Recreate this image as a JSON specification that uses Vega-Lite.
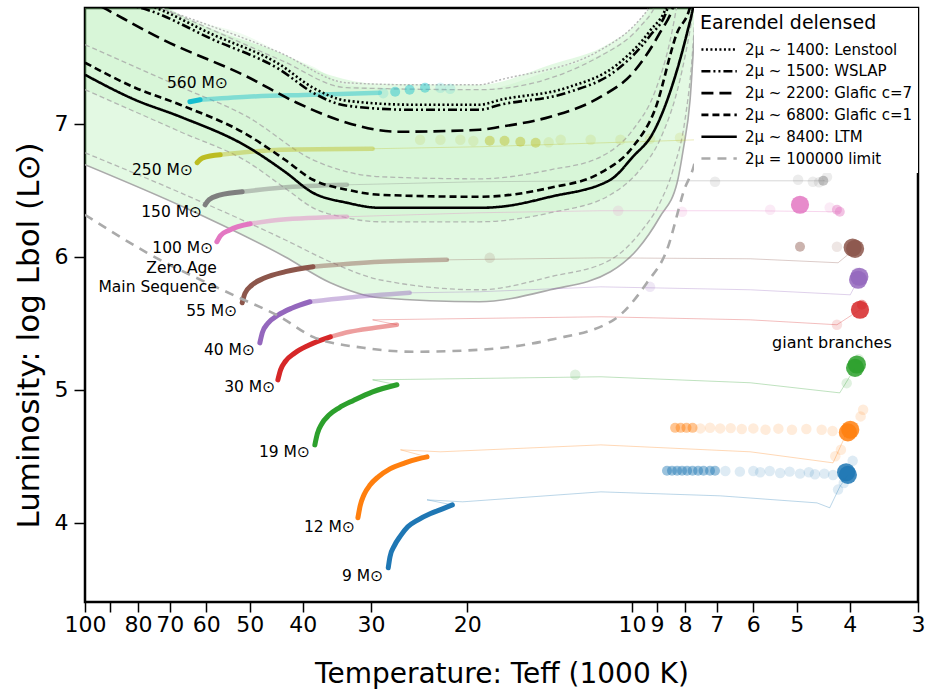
{
 "$schema": "https://vega.github.io/schema/vega-lite/v6.json",
 "width": 833, "height": 594,
 "autosize": "none",
 "padding": {"left": 85, "top": 8, "right": 9, "bottom": 98},
 "background": "white",
 "config": {
  "font": "DejaVu Sans",
  "view": {"stroke": "black", "strokeWidth": 2.5},
  "axis": {"domain": false, "grid": false, "tickColor": "black", "tickWidth": 1.5, "labelColor": "black", "titleColor": "black", "titleFontWeight": "normal", "labelFontSize": 22, "labelFont": "DejaVu Sans", "titleFont": "DejaVu Sans"},
  "legend": {"orient": "top-right", "offset": 0, "padding": 6, "fillColor": "white", "titleFontSize": 19, "titleFontWeight": "normal", "titleColor": "black", "labelFontSize": 15, "labelColor": "black", "symbolType": "M-1,0H4", "symbolSize": 200, "symbolStrokeWidth": 2.6, "symbolFillColor": "transparent", "labelOffset": 28, "rowPadding": 4.8, "titlePadding": 8, "labelLimit": 300}
 },
 "datasets": {
  "band": [
   {"b":"outer","T":100,"L":6.692,"L2":8.3},
   {"b":"outer","T":65.6,"L":6.368,"L2":7.80},
   {"b":"outer","T":43.1,"L":6.000,"L2":7.517},
   {"b":"outer","T":35.6,"L":5.805,"L2":7.365},
   {"b":"outer","T":28.9,"L":5.692,"L2":7.30},
   {"b":"outer","T":19.0,"L":5.662,"L2":7.293},
   {"b":"outer","T":14.1,"L":5.752,"L2":7.443},
   {"b":"outer","T":10.95,"L":5.887,"L2":7.608},
   {"b":"outer","T":9.79,"L":6.053,"L2":7.76},
   {"b":"outer","T":8.89,"L":6.301,"L2":8.0},
   {"b":"outer","T":8.27,"L":6.556,"L2":8.3},
   {"b":"outer","T":8.06,"L":6.805,"L2":8.3},
   {"b":"outer","T":7.83,"L":7.180,"L2":8.3},
   {"b":"outer","T":7.70,"L":7.632,"L2":8.3},
   {"b":"outer","T":7.60,"L":7.932,"L2":8.3},
   {"b":"outer","T":7.5,"L":8.3,"L2":8.3},
   {"b":"inner","T":100,"L":7.256,"L2":8.3},
   {"b":"inner","T":67.0,"L":6.940,"L2":7.82},
   {"b":"inner","T":50.5,"L":6.714,"L2":7.66},
   {"b":"inner","T":42.7,"L":6.504,"L2":7.51},
   {"b":"inner","T":38.3,"L":6.368,"L2":7.43},
   {"b":"inner","T":33.2,"L":6.293,"L2":7.29},
   {"b":"inner","T":28.9,"L":6.263,"L2":7.27},
   {"b":"inner","T":19.0,"L":6.263,"L2":7.256},
   {"b":"inner","T":14.1,"L":6.331,"L2":7.40},
   {"b":"inner","T":10.95,"L":6.466,"L2":7.56},
   {"b":"inner","T":9.67,"L":6.654,"L2":7.729},
   {"b":"inner","T":8.89,"L":6.880,"L2":7.97},
   {"b":"inner","T":8.17,"L":7.331,"L2":8.3},
   {"b":"inner","T":7.83,"L":7.707,"L2":8.3},
   {"b":"inner","T":7.67,"L":7.932,"L2":8.3},
   {"b":"inner","T":7.6,"L":8.3,"L2":8.3}
  ],
  "gray": [
   {"g":"top","T":79.3,"L":7.925},{"g":"top","T":73.9,"L":7.88},{"g":"top","T":44.0,"L":7.534},{"g":"top","T":33.2,"L":7.308},{"g":"top","T":25.1,"L":7.293},{"g":"top","T":19.0,"L":7.293},{"g":"top","T":17.4,"L":7.331},{"g":"top","T":11.4,"L":7.556},{"g":"top","T":9.96,"L":7.729},{"g":"top","T":9.27,"L":7.88},{"g":"top","T":8.89,"L":8.0},
   {"g":"g1","T":79.3,"L":7.932},{"g":"g1","T":71.4,"L":7.857},{"g":"g1","T":44.0,"L":7.481},{"g":"g1","T":33.2,"L":7.271},{"g":"g1","T":19.0,"L":7.256},{"g":"g1","T":11.4,"L":7.511},{"g":"g1","T":9.67,"L":7.729},{"g":"g1","T":9.08,"L":7.88},{"g":"g1","T":8.89,"L":7.97},
   {"g":"g4","T":100,"L":7.594},{"g":"g4","T":67.0,"L":7.278},{"g":"g4","T":50.5,"L":7.053},{"g":"g4","T":38.3,"L":6.729},{"g":"g4","T":28.9,"L":6.602},{"g":"g4","T":19.0,"L":6.586},{"g":"g4","T":14.1,"L":6.654},{"g":"g4","T":11.4,"L":6.752},{"g":"g4","T":9.96,"L":6.955},{"g":"g4","T":9.08,"L":7.241},{"g":"g4","T":8.51,"L":7.632},{"g":"g4","T":8.24,"L":7.932},
   {"g":"g2","T":100,"L":7.256},{"g":"g2","T":67.0,"L":6.940},{"g":"g2","T":50.5,"L":6.714},{"g":"g2","T":42.7,"L":6.504},{"g":"g2","T":38.3,"L":6.368},{"g":"g2","T":33.2,"L":6.293},{"g":"g2","T":28.9,"L":6.263},{"g":"g2","T":19.0,"L":6.263},{"g":"g2","T":14.1,"L":6.331},{"g":"g2","T":10.95,"L":6.466},{"g":"g2","T":9.67,"L":6.654},{"g":"g2","T":8.89,"L":6.880},{"g":"g2","T":8.17,"L":7.331},{"g":"g2","T":7.83,"L":7.707},{"g":"g2","T":7.67,"L":7.932},
   {"g":"g3","T":100,"L":6.782},{"g":"g3","T":65.6,"L":6.466},{"g":"g3","T":43.1,"L":6.128},{"g":"g3","T":35.6,"L":5.962},{"g":"g3","T":28.9,"L":5.827},{"g":"g3","T":19.0,"L":5.752},{"g":"g3","T":14.1,"L":5.850},{"g":"g3","T":10.95,"L":5.977},{"g":"g3","T":9.67,"L":6.180},{"g":"g3","T":8.89,"L":6.406},{"g":"g3","T":8.41,"L":6.654},{"g":"g3","T":8.00,"L":7.030},{"g":"g3","T":7.77,"L":7.481},{"g":"g3","T":7.64,"L":7.932},
   {"g":"lower","T":100,"L":6.692},{"g":"lower","T":65.6,"L":6.368},{"g":"lower","T":43.1,"L":6.000},{"g":"lower","T":35.6,"L":5.805},{"g":"lower","T":28.9,"L":5.692},{"g":"lower","T":19.0,"L":5.662},{"g":"lower","T":14.1,"L":5.752},{"g":"lower","T":10.95,"L":5.887},{"g":"lower","T":9.79,"L":6.053},{"g":"lower","T":8.89,"L":6.301},{"g":"lower","T":8.27,"L":6.556},{"g":"lower","T":8.06,"L":6.805},{"g":"lower","T":7.83,"L":7.180},{"g":"lower","T":7.70,"L":7.632},{"g":"lower","T":7.60,"L":7.932}
  ],
  "lens": [
   {"model":"2μ ~ 1400: Lenstool","T":86.3,"L":7.95},{"model":"2μ ~ 1400: Lenstool","T":77.0,"L":7.895},{"model":"2μ ~ 1400: Lenstool","T":58.3,"L":7.669},{"model":"2μ ~ 1400: Lenstool","T":44.0,"L":7.444},{"model":"2μ ~ 1400: Lenstool","T":38.3,"L":7.271},{"model":"2μ ~ 1400: Lenstool","T":33.2,"L":7.173},{"model":"2μ ~ 1400: Lenstool","T":25.1,"L":7.143},{"model":"2μ ~ 1400: Lenstool","T":19.0,"L":7.143},{"model":"2μ ~ 1400: Lenstool","T":17.4,"L":7.180},{"model":"2μ ~ 1400: Lenstool","T":13.15,"L":7.271},{"model":"2μ ~ 1400: Lenstool","T":10.65,"L":7.444},{"model":"2μ ~ 1400: Lenstool","T":9.27,"L":7.699},{"model":"2μ ~ 1400: Lenstool","T":8.63,"L":7.895},{"model":"2μ ~ 1400: Lenstool","T":8.45,"L":8.05},
   {"model":"2μ ~ 1500: WSLAP","T":86.3,"L":7.91},{"model":"2μ ~ 1500: WSLAP","T":77.0,"L":7.857},{"model":"2μ ~ 1500: WSLAP","T":58.3,"L":7.632},{"model":"2μ ~ 1500: WSLAP","T":44.0,"L":7.406},{"model":"2μ ~ 1500: WSLAP","T":38.3,"L":7.233},{"model":"2μ ~ 1500: WSLAP","T":33.2,"L":7.135},{"model":"2μ ~ 1500: WSLAP","T":25.1,"L":7.105},{"model":"2μ ~ 1500: WSLAP","T":19.0,"L":7.105},{"model":"2μ ~ 1500: WSLAP","T":17.4,"L":7.143},{"model":"2μ ~ 1500: WSLAP","T":13.15,"L":7.233},{"model":"2μ ~ 1500: WSLAP","T":10.65,"L":7.406},{"model":"2μ ~ 1500: WSLAP","T":9.27,"L":7.662},{"model":"2μ ~ 1500: WSLAP","T":8.63,"L":7.857},{"model":"2μ ~ 1500: WSLAP","T":8.45,"L":8.0},
   {"model":"2μ ~ 2200: Glafic c=7","T":100,"L":7.947},{"model":"2μ ~ 2200: Glafic c=7","T":91.1,"L":7.857},{"model":"2μ ~ 2200: Glafic c=7","T":72.0,"L":7.632},{"model":"2μ ~ 2200: Glafic c=7","T":50.5,"L":7.353},{"model":"2μ ~ 2200: Glafic c=7","T":41.0,"L":7.158},{"model":"2μ ~ 2200: Glafic c=7","T":33.2,"L":7.008},{"model":"2μ ~ 2200: Glafic c=7","T":26.9,"L":6.940},{"model":"2μ ~ 2200: Glafic c=7","T":19.0,"L":6.955},{"model":"2μ ~ 2200: Glafic c=7","T":17.4,"L":6.977},{"model":"2μ ~ 2200: Glafic c=7","T":14.1,"L":7.053},{"model":"2μ ~ 2200: Glafic c=7","T":11.4,"L":7.203},{"model":"2μ ~ 2200: Glafic c=7","T":9.96,"L":7.383},{"model":"2μ ~ 2200: Glafic c=7","T":8.89,"L":7.684},{"model":"2μ ~ 2200: Glafic c=7","T":8.41,"L":7.880},{"model":"2μ ~ 2200: Glafic c=7","T":8.17,"L":8.083},
   {"model":"2μ ~ 6800: Glafic c=1","T":100,"L":7.459},{"model":"2μ ~ 6800: Glafic c=1","T":81.0,"L":7.271},{"model":"2μ ~ 6800: Glafic c=1","T":67.0,"L":7.143},{"model":"2μ ~ 6800: Glafic c=1","T":50.5,"L":6.917},{"model":"2μ ~ 6800: Glafic c=1","T":43.1,"L":6.729},{"model":"2μ ~ 6800: Glafic c=1","T":38.3,"L":6.579},{"model":"2μ ~ 6800: Glafic c=1","T":33.2,"L":6.504},{"model":"2μ ~ 6800: Glafic c=1","T":28.9,"L":6.466},{"model":"2μ ~ 6800: Glafic c=1","T":19.0,"L":6.451},{"model":"2μ ~ 6800: Glafic c=1","T":14.1,"L":6.519},{"model":"2μ ~ 6800: Glafic c=1","T":11.4,"L":6.632},{"model":"2μ ~ 6800: Glafic c=1","T":9.96,"L":6.827},{"model":"2μ ~ 6800: Glafic c=1","T":9.08,"L":7.105},{"model":"2μ ~ 6800: Glafic c=1","T":8.27,"L":7.684},{"model":"2μ ~ 6800: Glafic c=1","T":7.83,"L":7.880},{"model":"2μ ~ 6800: Glafic c=1","T":7.70,"L":8.083},
   {"model":"2μ ~ 8400: LTM","T":100,"L":7.368},{"model":"2μ ~ 8400: LTM","T":81.0,"L":7.180},{"model":"2μ ~ 8400: LTM","T":67.0,"L":7.053},{"model":"2μ ~ 8400: LTM","T":50.5,"L":6.827},{"model":"2μ ~ 8400: LTM","T":43.1,"L":6.639},{"model":"2μ ~ 8400: LTM","T":38.3,"L":6.481},{"model":"2μ ~ 8400: LTM","T":33.2,"L":6.406},{"model":"2μ ~ 8400: LTM","T":28.9,"L":6.368},{"model":"2μ ~ 8400: LTM","T":19.0,"L":6.368},{"model":"2μ ~ 8400: LTM","T":17.4,"L":6.376},{"model":"2μ ~ 8400: LTM","T":14.1,"L":6.451},{"model":"2μ ~ 8400: LTM","T":10.95,"L":6.579},{"model":"2μ ~ 8400: LTM","T":9.96,"L":6.752},{"model":"2μ ~ 8400: LTM","T":9.15,"L":6.932},{"model":"2μ ~ 8400: LTM","T":8.41,"L":7.308},{"model":"2μ ~ 8400: LTM","T":7.93,"L":7.684},{"model":"2μ ~ 8400: LTM","T":7.73,"L":7.880},{"model":"2μ ~ 8400: LTM","T":7.60,"L":8.083},
   {"model":"2μ = 100000 limit","T":100,"L":6.316},{"model":"2μ = 100000 limit","T":77.0,"L":6.030},{"model":"2μ = 100000 limit","T":52.7,"L":5.699},{"model":"2μ = 100000 limit","T":44.0,"L":5.549},{"model":"2μ = 100000 limit","T":38.3,"L":5.398},{"model":"2μ = 100000 limit","T":31.0,"L":5.316},{"model":"2μ = 100000 limit","T":25.1,"L":5.286},{"model":"2μ = 100000 limit","T":19.0,"L":5.301},{"model":"2μ = 100000 limit","T":14.1,"L":5.376},{"model":"2μ = 100000 limit","T":10.8,"L":5.526},{"model":"2μ = 100000 limit","T":9.39,"L":5.805},{"model":"2μ = 100000 limit","T":8.63,"L":6.053},{"model":"2μ = 100000 limit","T":8.06,"L":6.481},{"model":"2μ = 100000 limit","T":7.60,"L":6.805},{"model":"2μ = 100000 limit","T":7.54,"L":7.256}
  ],
  "tracks": [
   {"m":"9","s":"ms","i":0,"T":27.9,"L":3.662},{"m":"9","s":"ms","i":1,"T":27.7,"L":3.744},{"m":"9","s":"ms","i":2,"T":27.2,"L":3.827},{"m":"9","s":"ms","i":3,"T":26.5,"L":3.902},{"m":"9","s":"ms","i":4,"T":25.7,"L":3.970},{"m":"9","s":"ms","i":5,"T":24.6,"L":4.023},{"m":"9","s":"ms","i":6,"T":23.4,"L":4.068},{"m":"9","s":"ms","i":7,"T":22.2,"L":4.105},{"m":"9","s":"ms","i":8,"T":21.3,"L":4.135},
   {"m":"9","s":"post","i":0,"T":21.3,"L":4.135},{"m":"9","s":"post","i":1,"T":23.7,"L":4.173},{"m":"9","s":"post","i":2,"T":20.4,"L":4.158},{"m":"9","s":"post","i":3,"T":11.4,"L":4.233},{"m":"9","s":"post","i":4,"T":6.90,"L":4.203},{"m":"9","s":"post","i":5,"T":4.59,"L":4.150},{"m":"9","s":"post","i":6,"T":4.35,"L":4.113},{"m":"9","s":"post","i":7,"T":4.17,"L":4.271},{"m":"9","s":"post","i":8,"T":4.03,"L":4.361},
   {"m":"12","s":"ms","i":0,"T":31.7,"L":4.038},{"m":"12","s":"ms","i":1,"T":31.4,"L":4.128},{"m":"12","s":"ms","i":2,"T":30.9,"L":4.211},{"m":"12","s":"ms","i":3,"T":30.1,"L":4.286},{"m":"12","s":"ms","i":4,"T":29.1,"L":4.346},{"m":"12","s":"ms","i":5,"T":27.7,"L":4.406},{"m":"12","s":"ms","i":6,"T":26.0,"L":4.451},{"m":"12","s":"ms","i":7,"T":24.6,"L":4.481},{"m":"12","s":"ms","i":8,"T":23.7,"L":4.496},
   {"m":"12","s":"post","i":0,"T":23.7,"L":4.496},{"m":"12","s":"post","i":1,"T":26.5,"L":4.549},{"m":"12","s":"post","i":2,"T":22.4,"L":4.534},{"m":"12","s":"post","i":3,"T":11.4,"L":4.586},{"m":"12","s":"post","i":4,"T":6.08,"L":4.534},{"m":"12","s":"post","i":5,"T":4.29,"L":4.451},{"m":"12","s":"post","i":6,"T":4.05,"L":4.677},{"m":"12","s":"post","i":7,"T":3.99,"L":4.699},
   {"m":"19","s":"ms","i":0,"T":38.0,"L":4.586},{"m":"19","s":"ms","i":1,"T":37.6,"L":4.670},{"m":"19","s":"ms","i":2,"T":36.9,"L":4.745},{"m":"19","s":"ms","i":3,"T":35.8,"L":4.810},{"m":"19","s":"ms","i":4,"T":34.3,"L":4.865},{"m":"19","s":"ms","i":5,"T":32.3,"L":4.920},{"m":"19","s":"ms","i":6,"T":29.8,"L":4.985},{"m":"19","s":"ms","i":7,"T":26.9,"L":5.038},
   {"m":"19","s":"post","i":0,"T":26.9,"L":5.038},{"m":"19","s":"post","i":1,"T":29.8,"L":5.075},{"m":"19","s":"post","i":2,"T":24.0,"L":5.08},{"m":"19","s":"post","i":3,"T":11.4,"L":5.098},{"m":"19","s":"post","i":4,"T":6.08,"L":5.053},{"m":"19","s":"post","i":5,"T":4.17,"L":4.977},{"m":"19","s":"post","i":6,"T":3.91,"L":5.165},
   {"m":"30","s":"ms","i":0,"T":44.4,"L":5.075},{"m":"30","s":"ms","i":1,"T":43.9,"L":5.150},{"m":"30","s":"ms","i":2,"T":43.0,"L":5.215},{"m":"30","s":"ms","i":3,"T":41.4,"L":5.275},{"m":"30","s":"ms","i":4,"T":39.0,"L":5.335},{"m":"30","s":"ms","i":5,"T":35.6,"L":5.398},
   {"m":"30","s":"fade","i":0,"T":35.6,"L":5.398},{"m":"30","s":"fade","i":1,"T":32.8,"L":5.436},{"m":"30","s":"fade","i":2,"T":29.5,"L":5.466},{"m":"30","s":"fade","i":3,"T":26.9,"L":5.489},
   {"m":"30","s":"post","i":0,"T":26.9,"L":5.489},{"m":"30","s":"post","i":1,"T":29.8,"L":5.526},{"m":"30","s":"post","i":2,"T":11.4,"L":5.549},{"m":"30","s":"post","i":3,"T":6.08,"L":5.526},{"m":"30","s":"post","i":4,"T":4.22,"L":5.489},{"m":"30","s":"post","i":5,"T":3.83,"L":5.602},
   {"m":"40","s":"ms","i":0,"T":47.9,"L":5.353},{"m":"40","s":"ms","i":1,"T":47.4,"L":5.430},{"m":"40","s":"ms","i":2,"T":46.3,"L":5.500},{"m":"40","s":"ms","i":3,"T":44.4,"L":5.560},{"m":"40","s":"ms","i":4,"T":41.8,"L":5.615},{"m":"40","s":"ms","i":5,"T":38.8,"L":5.662},
   {"m":"40","s":"fade","i":0,"T":38.8,"L":5.662},{"m":"40","s":"fade","i":1,"T":33.2,"L":5.692},{"m":"40","s":"fade","i":2,"T":25.5,"L":5.729},
   {"m":"40","s":"post","i":0,"T":25.5,"L":5.729},{"m":"40","s":"post","i":1,"T":19.0,"L":5.737},{"m":"40","s":"post","i":2,"T":11.4,"L":5.774},{"m":"40","s":"post","i":3,"T":6.08,"L":5.752},{"m":"40","s":"post","i":4,"T":3.99,"L":5.714},{"m":"40","s":"post","i":5,"T":3.86,"L":5.827},
   {"m":"55","s":"ms","i":0,"T":51.6,"L":5.654},{"m":"55","s":"ms","i":1,"T":51.0,"L":5.725},{"m":"55","s":"ms","i":2,"T":49.6,"L":5.785},{"m":"55","s":"ms","i":3,"T":47.0,"L":5.840},{"m":"55","s":"ms","i":4,"T":43.0,"L":5.888},{"m":"55","s":"ms","i":5,"T":38.3,"L":5.925},
   {"m":"55","s":"fade","i":0,"T":38.3,"L":5.925},{"m":"55","s":"fade","i":1,"T":28.9,"L":5.962},{"m":"55","s":"fade","i":2,"T":21.8,"L":5.977},
   {"m":"55","s":"post","i":0,"T":21.8,"L":5.977},{"m":"55","s":"post","i":1,"T":11.4,"L":5.992},{"m":"55","s":"post","i":2,"T":6.08,"L":5.985},{"m":"55","s":"post","i":3,"T":4.20,"L":5.955},{"m":"55","s":"post","i":4,"T":3.91,"L":6.060},
   {"m":"100","s":"ms","i":0,"T":57.4,"L":6.113},{"m":"100","s":"ms","i":1,"T":56.5,"L":6.160},{"m":"100","s":"ms","i":2,"T":54.5,"L":6.200},{"m":"100","s":"ms","i":3,"T":49.9,"L":6.248},
   {"m":"100","s":"fade","i":0,"T":49.9,"L":6.248},{"m":"100","s":"fade","i":1,"T":44.0,"L":6.278},{"m":"100","s":"fade","i":2,"T":33.2,"L":6.301},
   {"m":"100","s":"post","i":0,"T":33.2,"L":6.301},{"m":"100","s":"post","i":1,"T":19.0,"L":6.331},{"m":"100","s":"post","i":2,"T":11.4,"L":6.346},{"m":"100","s":"post","i":3,"T":6.08,"L":6.346},{"m":"100","s":"post","i":4,"T":4.17,"L":6.338},
   {"m":"150","s":"ms","i":0,"T":60.3,"L":6.391},{"m":"150","s":"ms","i":1,"T":59.3,"L":6.430},{"m":"150","s":"ms","i":2,"T":56.8,"L":6.463},{"m":"150","s":"ms","i":3,"T":51.6,"L":6.489},
   {"m":"150","s":"fade","i":0,"T":51.6,"L":6.489},{"m":"150","s":"fade","i":1,"T":44.0,"L":6.519},{"m":"150","s":"fade","i":2,"T":33.2,"L":6.541},
   {"m":"150","s":"post","i":0,"T":33.2,"L":6.541},{"m":"150","s":"post","i":1,"T":19.0,"L":6.564},{"m":"150","s":"post","i":2,"T":11.4,"L":6.571},{"m":"150","s":"post","i":3,"T":4.44,"L":6.571},
   {"m":"250","s":"ms","i":0,"T":62.4,"L":6.707},{"m":"250","s":"ms","i":1,"T":60.9,"L":6.744},{"m":"250","s":"ms","i":2,"T":56.6,"L":6.767},
   {"m":"250","s":"fade","i":0,"T":56.6,"L":6.767},{"m":"250","s":"fade","i":1,"T":49.9,"L":6.789},{"m":"250","s":"fade","i":2,"T":44.0,"L":6.805},{"m":"250","s":"fade","i":3,"T":29.8,"L":6.812},
   {"m":"250","s":"post","i":0,"T":29.8,"L":6.812},{"m":"250","s":"post","i":1,"T":19.0,"L":6.827},{"m":"250","s":"post","i":2,"T":7.51,"L":6.880},
   {"m":"560","s":"ms","i":0,"T":64.3,"L":7.165},{"m":"560","s":"ms","i":1,"T":61.6,"L":7.180},
   {"m":"560","s":"fade","i":0,"T":61.6,"L":7.180},{"m":"560","s":"fade","i":1,"T":50.5,"L":7.203},{"m":"560","s":"fade","i":2,"T":38.3,"L":7.218},{"m":"560","s":"fade","i":3,"T":28.9,"L":7.233}
  ],
  "dots": [
   {"m":"9","k":"mid","T":8.63,"L":4.391},{"m":"9","k":"mid","T":8.45,"L":4.391},{"m":"9","k":"mid","T":8.27,"L":4.391},{"m":"9","k":"mid","T":8.10,"L":4.391},{"m":"9","k":"mid","T":7.93,"L":4.391},{"m":"9","k":"mid","T":7.75,"L":4.391},{"m":"9","k":"mid","T":7.57,"L":4.391},{"m":"9","k":"mid","T":7.40,"L":4.391},{"m":"9","k":"mid","T":7.20,"L":4.391},{"m":"9","k":"mid","T":7.05,"L":4.391},
   {"m":"9","k":"faint","T":6.75,"L":4.39},{"m":"9","k":"faint","T":6.35,"L":4.385},{"m":"9","k":"faint","T":6.0,"L":4.39},{"m":"9","k":"faint","T":5.83,"L":4.38},{"m":"9","k":"faint","T":5.6,"L":4.39},{"m":"9","k":"faint","T":5.36,"L":4.375},{"m":"9","k":"faint","T":5.15,"L":4.385},{"m":"9","k":"faint","T":4.93,"L":4.37},{"m":"9","k":"faint","T":4.75,"L":4.38},{"m":"9","k":"faint","T":4.63,"L":4.365},{"m":"9","k":"faint","T":4.45,"L":4.37},{"m":"9","k":"faint","T":4.29,"L":4.36},
   {"m":"9","k":"big","T":4.03,"L":4.361},{"m":"9","k":"big","T":4.06,"L":4.38},{"m":"9","k":"faint","T":3.95,"L":4.466},{"m":"9","k":"faint","T":4.1,"L":4.30},{"m":"9","k":"faint","T":4.2,"L":4.25},
   {"m":"12","k":"mid","T":8.34,"L":4.714},{"m":"12","k":"mid","T":8.15,"L":4.714},{"m":"12","k":"mid","T":7.95,"L":4.714},{"m":"12","k":"mid","T":7.75,"L":4.714},
   {"m":"12","k":"faint","T":7.5,"L":4.71},{"m":"12","k":"faint","T":7.2,"L":4.715},{"m":"12","k":"faint","T":6.9,"L":4.71},{"m":"12","k":"faint","T":6.6,"L":4.712},{"m":"12","k":"faint","T":6.3,"L":4.705},{"m":"12","k":"faint","T":6.0,"L":4.71},{"m":"12","k":"faint","T":5.7,"L":4.70},{"m":"12","k":"faint","T":5.4,"L":4.708},{"m":"12","k":"faint","T":5.1,"L":4.70},{"m":"12","k":"faint","T":4.8,"L":4.705},{"m":"12","k":"faint","T":4.5,"L":4.70},{"m":"12","k":"faint","T":4.3,"L":4.69},
   {"m":"12","k":"big","T":3.99,"L":4.70},{"m":"12","k":"big","T":4.03,"L":4.68},{"m":"12","k":"faint","T":3.78,"L":4.85},{"m":"12","k":"faint","T":3.82,"L":4.80},{"m":"12","k":"faint","T":4.15,"L":4.55},{"m":"12","k":"faint","T":4.25,"L":4.50},
   {"m":"19","k":"big","T":3.91,"L":5.165},{"m":"19","k":"big","T":3.88,"L":5.19},{"m":"19","k":"faint","T":3.85,"L":5.23},{"m":"19","k":"faint","T":4.05,"L":5.05},{"m":"19","k":"faint","T":12.7,"L":5.113},
   {"m":"30","k":"big","T":3.83,"L":5.602},{"m":"30","k":"mid","T":3.80,"L":5.64},{"m":"30","k":"faint","T":4.22,"L":5.489},
   {"m":"40","k":"big","T":3.86,"L":5.827},{"m":"40","k":"big","T":3.84,"L":5.85},{"m":"40","k":"faint","T":9.27,"L":5.774},{"m":"40","k":"faint","T":3.88,"L":5.88},
   {"m":"55","k":"big","T":3.91,"L":6.060},{"m":"55","k":"big","T":3.95,"L":6.07},{"m":"55","k":"mid","T":4.93,"L":6.075},{"m":"55","k":"faint","T":4.22,"L":6.075},{"m":"55","k":"faint","T":18.2,"L":5.992},
   {"m":"100","k":"big","T":4.93,"L":6.391},{"m":"100","k":"mid","T":4.22,"L":6.353},{"m":"100","k":"mid","T":4.17,"L":6.338},{"m":"100","k":"faint","T":4.35,"L":6.37},{"m":"100","k":"faint","T":5.59,"L":6.353},{"m":"100","k":"faint","T":8.10,"L":6.338},{"m":"100","k":"faint","T":10.6,"L":6.346},
   {"m":"150","k":"mid","T":4.47,"L":6.571},{"m":"150","k":"faint","T":4.55,"L":6.56},{"m":"150","k":"faint","T":4.67,"L":6.564},{"m":"150","k":"faint","T":4.97,"L":6.579},{"m":"150","k":"faint","T":7.05,"L":6.564},{"m":"150","k":"faint","T":4.4,"L":6.60},
   {"m":"250","k":"mid","T":18.2,"L":6.872},{"m":"250","k":"mid","T":17.1,"L":6.872},{"m":"250","k":"mid","T":16.0,"L":6.865},{"m":"250","k":"mid","T":15.0,"L":6.857},
   {"m":"250","k":"faint","T":24.4,"L":6.88},{"m":"250","k":"faint","T":22.4,"L":6.88},{"m":"250","k":"faint","T":20.6,"L":6.88},{"m":"250","k":"faint","T":19.5,"L":6.87},{"m":"250","k":"faint","T":14.2,"L":6.86},{"m":"250","k":"faint","T":13.5,"L":6.88},{"m":"250","k":"faint","T":11.9,"L":6.88},{"m":"250","k":"faint","T":10.5,"L":6.88},{"m":"250","k":"faint","T":9.27,"L":6.887},{"m":"250","k":"faint","T":8.17,"L":6.895},
   {"m":"560","k":"mid","T":27.1,"L":7.241},{"m":"560","k":"mid","T":25.5,"L":7.256},{"m":"560","k":"mid","T":23.9,"L":7.271},{"m":"560","k":"faint","T":22.4,"L":7.271},{"m":"560","k":"faint","T":21.5,"L":7.263},{"m":"560","k":"faint","T":28.5,"L":7.23}
  ],
  "labels": [
   {"t":"560 M⊙","T":54.8,"L":7.308},
   {"t":"250 M⊙","T":63.5,"L":6.654},
   {"t":"150 M⊙","T":61.1,"L":6.338},
   {"t":"100 M⊙","T":58.3,"L":6.068},
   {"t":"Zero Age","T":57.4,"L":5.917},
   {"t":"Main Sequence","T":57.4,"L":5.774},
   {"t":"55 M⊙","T":52.7,"L":5.594},
   {"t":"40 M⊙","T":48.9,"L":5.301},
   {"t":"30 M⊙","T":44.9,"L":5.023},
   {"t":"19 M⊙","T":38.8,"L":4.534},
   {"t":"12 M⊙","T":32.1,"L":3.970},
   {"t":"9 M⊙","T":28.5,"L":3.602}
  ],
  "notes": [
   {"t":"giant branches","T":4.31,"L":5.353}
  ]
 },
 "encoding": {
  "x": {"field": "T", "type": "quantitative",
   "scale": {"type": "log", "domain": [3, 100], "reverse": true},
   "axis": {"title": "Temperature: Teff (1000 K)", "titleFontSize": 28, "values": [100,90,80,70,60,50,40,30,20,10,9,8,7,6,5,4,3], "format": "d", "labelExpr": "datum.value == 90 ? '' : datum.label", "tickSize": 10, "labelPadding": 2, "labelOverlap": false, "labelFlush": false, "labelBound": false, "titleY": 80, "titleBaseline": "alphabetic"}},
  "y": {"field": "L", "type": "quantitative",
   "scale": {"domain": [3.405, 7.87], "nice": false, "zero": false},
   "axis": {"title": "Luminosity: log Lbol (L⊙)", "titleFontSize": 31, "values": [4,5,6,7], "format": "d", "tickSize": 11, "labelPadding": 6, "titleX": -47, "titleY": 327, "titleBaseline": "alphabetic"}}
 },
 "layer": [
  {"data": {"name": "band"}, "transform": [{"filter": "datum.b == 'outer'"}],
   "mark": {"type": "area", "clip": true, "color": "#8ee68e", "opacity": 0.25, "interpolate": "monotone"},
   "encoding": {"y2": {"field": "L2"}}},
  {"data": {"name": "band"}, "transform": [{"filter": "datum.b == 'inner'"}],
   "mark": {"type": "area", "clip": true, "color": "#8ee68e", "opacity": 0.12, "interpolate": "monotone"},
   "encoding": {"y2": {"field": "L2"}}},
  {"data": {"name": "gray"}, "transform": [{"filter": "datum.g == 'top'"}],
   "mark": {"type": "line", "clip": true, "color": "#b5b5b5", "strokeWidth": 1.4, "strokeDash": [2, 2], "interpolate": "monotone"},
   "encoding": {}},
  {"data": {"name": "gray"}, "transform": [{"filter": "datum.g == 'g1' || datum.g == 'g2' || datum.g == 'g3' || datum.g == 'g4'"}],
   "mark": {"type": "line", "clip": true, "color": "#a8a8a8", "strokeWidth": 1.3, "strokeDash": [5, 3], "opacity": 0.8, "interpolate": "monotone"},
   "encoding": {"detail": {"field": "g"}}},
  {"data": {"name": "gray"}, "transform": [{"filter": "datum.g == 'lower'"}],
   "mark": {"type": "line", "clip": true, "color": "#aaaaaa", "strokeWidth": 1.6, "interpolate": "monotone"},
   "encoding": {}},
  {"data": {"name": "tracks"}, "transform": [{"filter": "datum.s == 'post'"}],
   "mark": {"type": "line", "clip": true, "strokeWidth": 1, "opacity": 0.3},
   "encoding": {"color": {"field": "m", "type": "nominal", "scale": {"domain": ["9","12","19","30","40","55","100","150","250","560"], "range": ["#1f77b4","#ff7f0e","#2ca02c","#d62728","#9467bd","#8c564b","#e377c2","#7f7f7f","#bcbd22","#17becf"]}, "legend": null},
    "detail": {"field": "m"}, "order": {"field": "i"}}},
  {"data": {"name": "tracks"}, "transform": [{"filter": "datum.s == 'fade'"}],
   "mark": {"type": "line", "clip": true, "strokeWidth": 4.5, "opacity": 0.45, "strokeCap": "round", "interpolate": "monotone"},
   "encoding": {"color": {"field": "m", "type": "nominal", "legend": null},
    "detail": {"field": "m"}, "order": {"field": "i"}}},
  {"data": {"name": "tracks"}, "transform": [{"filter": "datum.s == 'ms'"}],
   "mark": {"type": "line", "clip": true, "strokeWidth": 5, "opacity": 1, "strokeCap": "round", "interpolate": "monotone"},
   "encoding": {"color": {"field": "m", "type": "nominal", "legend": null},
    "detail": {"field": "m"}, "order": {"field": "i"}}},
  {"data": {"name": "dots"}, "transform": [{"filter": "datum.k == 'faint'"}],
   "mark": {"type": "circle", "clip": true, "size": 110, "opacity": 0.15},
   "encoding": {"color": {"field": "m", "type": "nominal", "legend": null}}},
  {"data": {"name": "dots"}, "transform": [{"filter": "datum.k == 'mid'"}],
   "mark": {"type": "circle", "clip": true, "size": 100, "opacity": 0.45},
   "encoding": {"color": {"field": "m", "type": "nominal", "legend": null}}},
  {"data": {"name": "dots"}, "transform": [{"filter": "datum.k == 'big'"}],
   "mark": {"type": "circle", "clip": true, "size": 330, "opacity": 0.85},
   "encoding": {"color": {"field": "m", "type": "nominal", "legend": null}}},
  {"data": {"name": "lens"},
   "mark": {"type": "line", "clip": true, "strokeWidth": 2.6, "strokeCap": "butt", "interpolate": "monotone"},
   "encoding": {
    "stroke": {"field": "model", "type": "nominal", "title": "Earendel delensed",
     "scale": {"domain": ["2μ ~ 1400: Lenstool","2μ ~ 1500: WSLAP","2μ ~ 2200: Glafic c=7","2μ ~ 6800: Glafic c=1","2μ ~ 8400: LTM","2μ = 100000 limit"], "range": ["black","black","black","black","black","#aaaaaa"]}},
    "strokeDash": {"field": "model", "type": "nominal", "title": "Earendel delensed",
     "scale": {"domain": ["2μ ~ 1400: Lenstool","2μ ~ 1500: WSLAP","2μ ~ 2200: Glafic c=7","2μ ~ 6800: Glafic c=1","2μ ~ 8400: LTM","2μ = 100000 limit"], "range": [[2,2.5],[9,3,2,3,2,3],[12,6],[7,4],[1,0],[9,7]]}}
   }},
  {"data": {"name": "labels"},
   "mark": {"type": "text", "align": "right", "baseline": "middle", "fontSize": 15.5, "color": "black"},
   "encoding": {"text": {"field": "t"}}},
  {"data": {"name": "notes"},
   "mark": {"type": "text", "align": "center", "baseline": "middle", "fontSize": 16, "color": "black"},
   "encoding": {"text": {"field": "t"}}}
 ]
}
